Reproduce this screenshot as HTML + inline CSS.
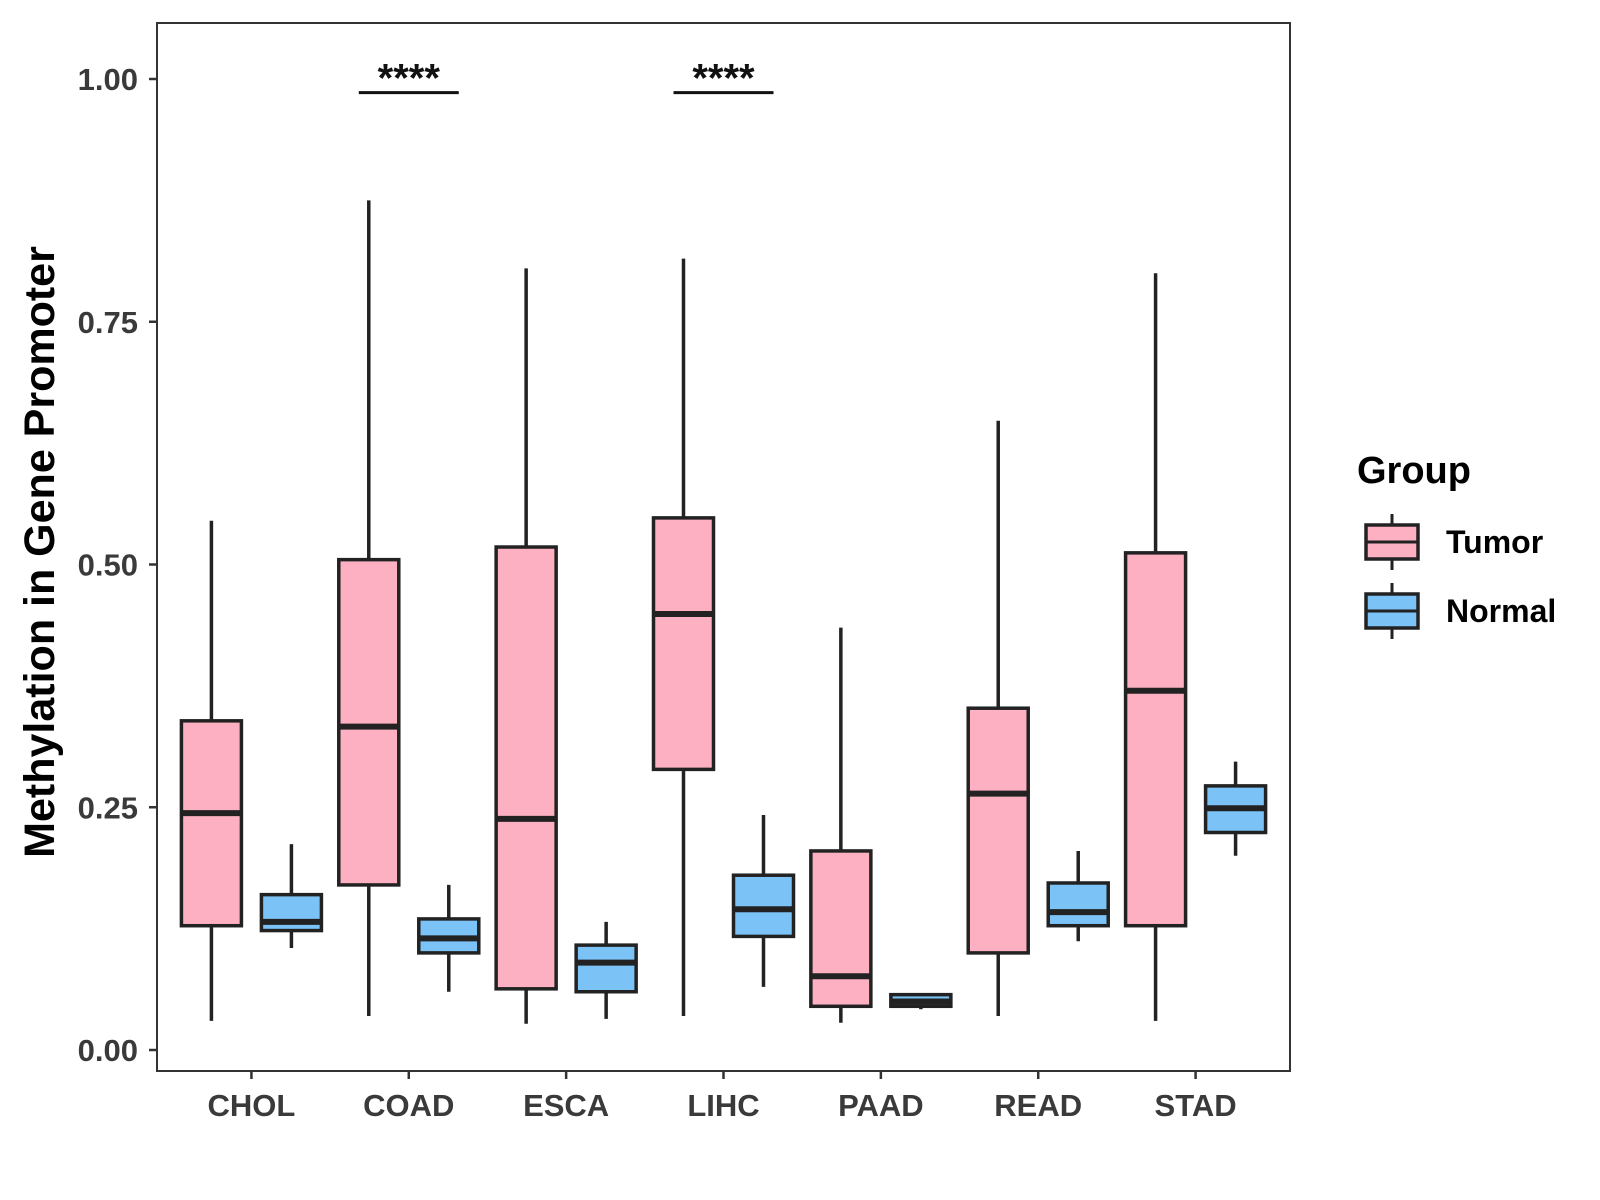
<!DOCTYPE html>
<html><head><meta charset="utf-8"><style>body{margin:0;background:#fff}svg{display:block}text{font-family:"Liberation Sans",sans-serif;font-weight:bold}</style></head>
<body>
<svg id="chart" width="1600" height="1200"></svg>
<script>
const categories=["CHOL","COAD","ESCA","LIHC","PAAD","READ","STAD"];
// [lowWhisker, q1, median, q3, highWhisker]
const tumor=[[0.03,0.128,0.244,0.339,0.545],[0.035,0.17,0.333,0.505,0.875],[0.027,0.063,0.238,0.518,0.805],[0.035,0.289,0.449,0.548,0.815],[0.028,0.045,0.076,0.205,0.435],[0.035,0.1,0.264,0.352,0.648],[0.03,0.128,0.37,0.512,0.8]];
const normal=[[0.105,0.123,0.132,0.16,0.212],[0.06,0.1,0.115,0.135,0.17],[0.032,0.06,0.09,0.108,0.132],[0.065,0.117,0.145,0.18,0.242],[0.042,0.045,0.05,0.057,0.057],[0.112,0.128,0.142,0.172,0.205],[0.2,0.224,0.249,0.272,0.297]];
const yTicks=[0,0.25,0.5,0.75,1.0];
const yTickLabels=["0.00","0.25","0.50","0.75","1.00"];
const sigCats=["COAD","LIHC"];
const sigLabels=["****","****"];
const sigY=0.986;

const NS="http://www.w3.org/2000/svg";
const svg=document.getElementById("chart");
const L=157,R=1290,T=23,B=1071;
const step=(R-L)/(categories.length-1+1.2);
const xc=i=>L+(0.6+i)*step;
const y=v=>1050-v*971;
const bw=60,off=40;
function el(tag,a,parent){const e=document.createElementNS(NS,tag);for(const k in a)e.setAttribute(k,a[k]);(parent||svg).appendChild(e);return e;}

const panel=el("rect",{x:L,y:T,width:R-L,height:B-T,fill:"none",stroke:"#333",'stroke-width':2});



yTicks.forEach((v,i)=>{
  const g=el("g",{});
  
  
  el("line",{x1:L-8,x2:L,y1:y(v),y2:y(v),stroke:"#333",'stroke-width':2.5},g);
  const t=el("text",{x:L-19,y:y(v)+11,'text-anchor':'end','font-size':31,fill:"#3a3a3a"},g);t.textContent=yTickLabels[i];
});
categories.forEach((c,i)=>{
  const g=el("g",{});
  
  
  el("line",{x1:xc(i),x2:xc(i),y1:B,y2:B+8,stroke:"#333",'stroke-width':2.5},g);
  const t=el("text",{x:xc(i),y:B+45,'text-anchor':'middle','font-size':31,fill:"#3a3a3a"},g);t.textContent=c;
});

function box(cx,d,fill,name){
  const g=el("g",{});
  
  
  el("line",{x1:cx,x2:cx,y1:y(d[0]),y2:y(d[4]),stroke:"#222",'stroke-width':3.5},g);
  el("rect",{x:cx-bw/2,y:y(d[3]),width:bw,height:y(d[1])-y(d[3]),fill:fill,stroke:"#222",'stroke-width':3.5},g);
  el("line",{x1:cx-bw/2,x2:cx+bw/2,y1:y(d[2]),y2:y(d[2]),stroke:"#222",'stroke-width':6},g);
}
categories.forEach((c,i)=>{
  box(xc(i)-off,tumor[i],"#fdb0c2","box-tumor-"+c.toLowerCase());
  box(xc(i)+off,normal[i],"#7bc3f7","box-normal-"+c.toLowerCase());
});
sigCats.forEach((c,k)=>{
  const i=categories.indexOf(c);
  const g=el("g",{});
  
  
  el("line",{x1:xc(i)-off-10,x2:xc(i)+off+10,y1:y(sigY),y2:y(sigY),stroke:"#111",'stroke-width':3},g);
  const t=el("text",{x:xc(i),y:y(sigY)-1,'text-anchor':'middle','font-size':40,fill:"#111"},g);t.textContent=sigLabels[k];
});

const yt=el("text",{x:0,y:0,transform:"translate(54,552) rotate(-90)",'text-anchor':'middle','font-size':43,fill:"#000"});
yt.textContent="Methylation in Gene Promoter";



const lg=el("g",{});


const lt=el("text",{x:1357,y:483,'font-size':38,fill:"#000"},lg);lt.textContent="Group";
[["Tumor","#fdb0c2",542],["Normal","#7bc3f7",611]].forEach(([n,f,cy])=>{
  const g=el("g",{},lg);
  
  
  el("line",{x1:1392,x2:1392,y1:cy-28,y2:cy+28,stroke:"#222",'stroke-width':3},g);
  el("rect",{x:1366,y:cy-17,width:52,height:34,fill:f,stroke:"#222",'stroke-width':3.5},g);
  el("line",{x1:1366,x2:1418,y1:cy,y2:cy,stroke:"#222",'stroke-width':3},g);
  const t=el("text",{x:1446,y:cy+11,'font-size':32,fill:"#000"},g);t.textContent=n;
});
</script>
</body></html>
